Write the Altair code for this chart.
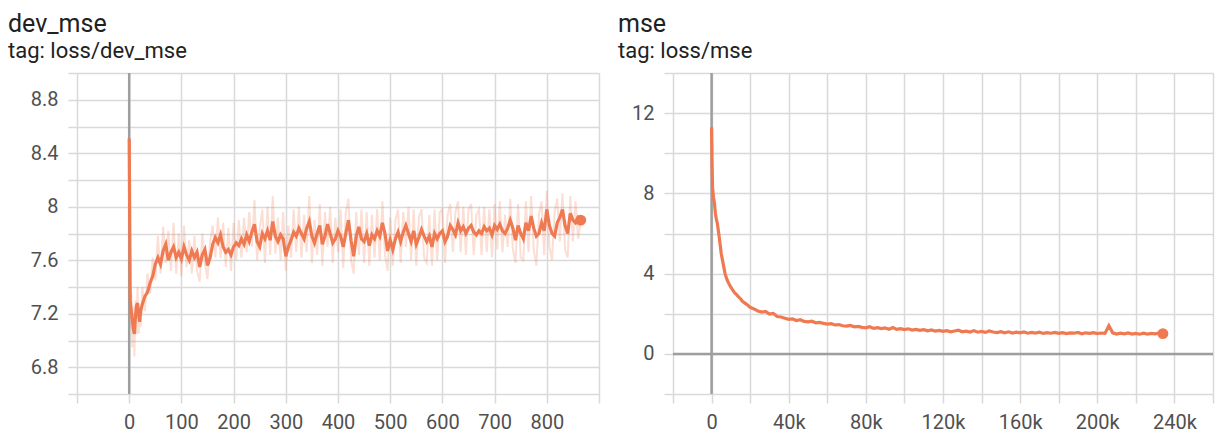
import altair as alt
import pandas as pd

FONT = "Roboto"
ORANGE = "#ef7a52"
GRID = "#d9d9d9"
ZERO = "#9e9e9e"
LABEL = "#505050"
TITLE = "#212121"

# ---------------- dev_mse (left panel) ----------------
dev_early_steps = [0, 2, 4, 6, 8, 10, 12, 14, 16, 18, 20, 22]
dev_early_smooth = [8.51, 7.30, 7.22, 7.15, 7.08, 7.05, 7.18, 7.26, 7.28, 7.20, 7.14, 7.22]
dev_early_raw = [8.51, 7.10, 7.35, 6.95, 7.25, 6.88, 7.30, 7.05, 7.40, 7.05, 7.25, 7.10]

# every 5 steps from 25
dev_smooth = [
    7.27, 7.33, 7.36, 7.43, 7.48, 7.57, 7.62, 7.57, 7.67, 7.72,
    7.60, 7.66, 7.70, 7.62, 7.66, 7.61, 7.70, 7.64, 7.60, 7.67,
    7.62, 7.66, 7.55, 7.64, 7.68, 7.56, 7.62, 7.72, 7.77, 7.73,
    7.79, 7.70, 7.66, 7.68, 7.64, 7.70, 7.73, 7.71, 7.76, 7.72,
    7.79, 7.74, 7.81, 7.87, 7.74, 7.70, 7.80, 7.76, 7.82, 7.75,
    7.89, 7.78, 7.74, 7.79, 7.76, 7.63, 7.70, 7.75, 7.81, 7.78,
    7.84, 7.80, 7.76, 7.84, 7.89, 7.78, 7.73, 7.80, 7.86, 7.72,
    7.78, 7.87, 7.80, 7.73, 7.76, 7.82, 7.78, 7.70, 7.80, 7.90,
    7.75, 7.63, 7.78, 7.85, 7.76, 7.74, 7.80, 7.71, 7.79, 7.76,
    7.82, 7.78, 7.88, 7.80, 7.67, 7.75, 7.68, 7.76, 7.81, 7.74,
    7.81, 7.86, 7.80, 7.74, 7.82, 7.72, 7.77, 7.83, 7.78, 7.74,
    7.78, 7.70, 7.80, 7.76, 7.80, 7.82, 7.74, 7.78, 7.86, 7.83,
    7.79, 7.88, 7.82, 7.85, 7.80, 7.84, 7.86, 7.81, 7.79, 7.82,
    7.80, 7.85, 7.82, 7.84, 7.79, 7.86, 7.83, 7.87, 7.82, 7.80,
    7.84, 7.90, 7.84, 7.75, 7.86, 7.80, 7.76, 7.88, 7.82, 7.93,
    7.84, 7.78, 7.80, 7.88, 7.82, 7.98, 7.86, 7.80, 7.78, 7.88,
    7.92, 7.98, 7.86, 7.80, 7.95, 7.90, 7.88, 7.92, 7.90,
]
dev_raw = [
    7.40, 7.22, 7.50, 7.35, 7.62, 7.45, 7.78, 7.50, 7.85, 7.58,
    7.82, 7.52, 7.88, 7.50, 7.80, 7.48, 7.86, 7.55, 7.75, 7.50,
    7.78, 7.52, 7.44, 7.80, 7.58, 7.46, 7.74, 7.86, 7.62, 7.92,
    7.62, 7.88, 7.55, 7.84, 7.52, 7.88, 7.60, 7.90, 7.62, 7.92,
    7.66, 7.96, 7.70, 8.05, 7.60, 7.84, 7.98, 7.58, 8.00, 7.64,
    8.08, 7.65, 7.92, 7.60, 7.96, 7.52, 7.86, 7.62, 7.98, 7.66,
    8.00, 7.62, 7.94, 7.66, 8.08, 7.58, 7.90, 7.64, 8.02, 7.56,
    7.96, 7.70, 8.00, 7.58, 7.92, 7.66, 7.98, 7.54, 7.96, 8.06,
    7.60, 7.50, 7.96, 7.64, 7.98, 7.58, 7.96, 7.56, 7.94, 7.62,
    7.98, 7.60, 8.04, 7.64, 7.52, 7.92, 7.56, 7.90, 7.98, 7.58,
    7.96, 7.70, 8.00, 7.60, 7.98, 7.56, 7.92, 7.98, 7.62, 7.58,
    7.94, 7.56, 7.98, 7.60, 7.96, 7.98, 7.58, 7.94, 8.02, 7.66,
    7.96, 8.04, 7.66, 8.00, 7.64, 7.98, 8.02, 7.64, 7.94, 7.98,
    7.64, 8.00, 7.66, 7.98, 7.62, 8.02, 7.68, 8.04, 7.66, 7.94,
    7.70, 8.06, 7.68, 7.58, 8.02, 7.62, 7.60, 8.04, 7.66, 8.08,
    7.68, 7.56, 7.94, 8.04, 7.64, 8.12, 7.70, 7.60, 7.96, 8.06,
    7.74, 8.10, 7.68, 7.62, 8.08, 7.74, 8.04, 7.76, 7.90,
]
dev_steps = dev_early_steps + [25 + 5 * i for i in range(len(dev_smooth))]

dev_x_ticks = [-100, 0, 100, 200, 300, 400, 500, 600, 700, 800, 900]
dev_y_ticks = [6.6, 6.8, 7.0, 7.2, 7.4, 7.6, 7.8, 8.0, 8.2, 8.4, 8.6, 8.8, 9.0]

# ---------------- mse (right panel) ----------------
mse_early_steps = [0, 250, 500, 1000, 1500, 2000, 2500, 3000, 4000, 5000, 6000,
                   7000, 8000, 9000, 10000, 11000, 12000, 13000, 14000, 15000, 16000, 18000]
mse_early = [11.3, 9.6, 8.3, 7.8, 7.5, 7.0, 6.7, 6.5, 5.8, 5.0, 4.5,
             4.0, 3.7, 3.5, 3.32, 3.18, 3.04, 2.95, 2.84, 2.75, 2.62, 2.48]
# every 2000 steps from 20000
mse_smooth = [
    2.32, 2.24, 2.14, 2.08, 2.12, 1.98, 2.02, 1.86, 1.84, 1.78,
    1.72, 1.74, 1.66, 1.70, 1.62, 1.60, 1.63, 1.55, 1.57, 1.52,
    1.48, 1.51, 1.44, 1.46, 1.40, 1.38, 1.42, 1.35, 1.37, 1.32,
    1.30, 1.35, 1.27, 1.31, 1.26, 1.29, 1.23, 1.31, 1.22, 1.26,
    1.21, 1.25, 1.19, 1.22, 1.17, 1.21, 1.15, 1.19, 1.14, 1.17,
    1.12, 1.16, 1.10, 1.14, 1.18, 1.10, 1.13, 1.09, 1.16, 1.08,
    1.12, 1.07, 1.14, 1.09, 1.06, 1.11, 1.05, 1.10, 1.04, 1.08,
    1.05, 1.09, 1.03, 1.07, 1.04, 1.08, 1.02, 1.06, 1.03, 1.07,
    1.02, 1.06, 1.01, 1.05, 1.03, 1.07, 1.00, 1.05, 1.02, 1.06,
    1.01, 1.04, 1.02, 1.40, 1.05, 0.99, 1.03, 1.00, 1.04, 0.99,
    1.02, 0.98, 1.03, 0.99, 1.02, 1.00, 1.03, 1.01,
]
mse_steps = mse_early_steps + [20000 + 2000 * i for i in range(len(mse_smooth))]

mse_x_ticks = [-20000, 0, 20000, 40000, 60000, 80000, 100000, 120000, 140000,
               160000, 180000, 200000, 220000, 240000, 260000]
mse_y_ticks = [-2, 0, 2, 4, 6, 8, 10, 12, 14]


def make_axis(values, label_expr, orient):
    return alt.Axis(
        values=values, labelExpr=label_expr, grid=True, gridColor=GRID,
        gridWidth=1.5, domain=False, ticks=True, tickColor=GRID, tickWidth=1.5,
        tickSize=9, labelPadding=9 if orient == "x" else 10,
        labelFont=FONT, labelFontSize=20, labelColor=LABEL,
        labelOverlap=False, labelFlush=False, title=None,
    )


def panel(title, subtitle, dx, width, steps, smooth, raw, xdom, ydom,
          xticks, yticks, xexpr, yexpr, zero_y, line_w):
    xs = alt.Scale(domain=xdom, nice=False, zero=False)
    ys = alt.Scale(domain=ydom, nice=False, zero=False)
    xa = make_axis(xticks, xexpr, "x")
    ya = make_axis(yticks, yexpr, "y")

    def enc(xf, yf):
        return dict(x=alt.X(xf, type="quantitative", scale=xs, axis=xa),
                    y=alt.Y(yf, type="quantitative", scale=ys, axis=ya))

    layers = []
    zx = alt.Chart(pd.DataFrame({"step": [0]})).mark_rule(
        color=ZERO, strokeWidth=2.5).encode(
        x=alt.X("step", type="quantitative", scale=xs, axis=xa))
    layers.append(zx)
    if zero_y:
        zy = alt.Chart(pd.DataFrame({"value": [0]})).mark_rule(
            color=ZERO, strokeWidth=2.5).encode(
            y=alt.Y("value", type="quantitative", scale=ys, axis=ya))
        layers.append(zy)
    if raw is not None:
        rdf = pd.DataFrame({"step": steps, "value": raw})
        layers.append(alt.Chart(rdf).mark_line(
            color=ORANGE, opacity=0.25, strokeWidth=2).encode(**enc("step", "value")))
    sdf = pd.DataFrame({"step": steps, "value": smooth})
    layers.append(alt.Chart(sdf).mark_line(
        color=ORANGE, strokeWidth=line_w).encode(**enc("step", "value")))
    last = pd.DataFrame({"step": [steps[-1]], "value": [smooth[-1]]})
    layers.append(alt.Chart(last).mark_circle(
        color=ORANGE, opacity=1, size=120).encode(**enc("step", "value")))

    return alt.layer(*layers).properties(
        width=width, height=321,
        title=alt.TitleParams(
            text=title, subtitle=subtitle, anchor="start", frame="group",
            dx=dx, font=FONT, fontSize=25, fontWeight="normal", color=TITLE,
            subtitleFont=FONT, subtitleFontSize=22, subtitleColor=TITLE,
            subtitlePadding=4, offset=1,
        ),
    )


left = panel("dev_mse", "tag: loss/dev_mse", -69, 522, dev_steps,
             dev_early_smooth + dev_smooth, dev_early_raw + dev_raw,
             [-100, 900], [6.6, 9.0], dev_x_ticks, dev_y_ticks,
             "datum.value >= 0 && datum.value <= 800 ? format(datum.value, 'd') : ''",
             "round(datum.value * 10) % 4 == 0 && datum.value < 8.9 ? format(datum.value, '~g') : ''",
             False, 3.2)

right = panel("mse", "tag: loss/mse", -55, 540, mse_steps,
              mse_early + mse_smooth, None,
              [-20000, 260000], [-2, 14], mse_x_ticks, mse_y_ticks,
              "datum.value >= 0 && datum.value <= 240000 && datum.value % 40000 == 0 ? format(datum.value, '~s') : ''",
              "datum.value >= 0 && datum.value <= 12 && datum.value % 4 == 0 ? format(datum.value, 'd') : ''",
              True, 3.2)

chart = alt.hconcat(left, right, spacing=18).properties(
    padding={"left": 0, "top": 4, "right": 0, "bottom": 0},
    background="white",
).configure_view(stroke=None)

chart.save("out.html", embed_options={"renderer": "svg", "actions": False})
